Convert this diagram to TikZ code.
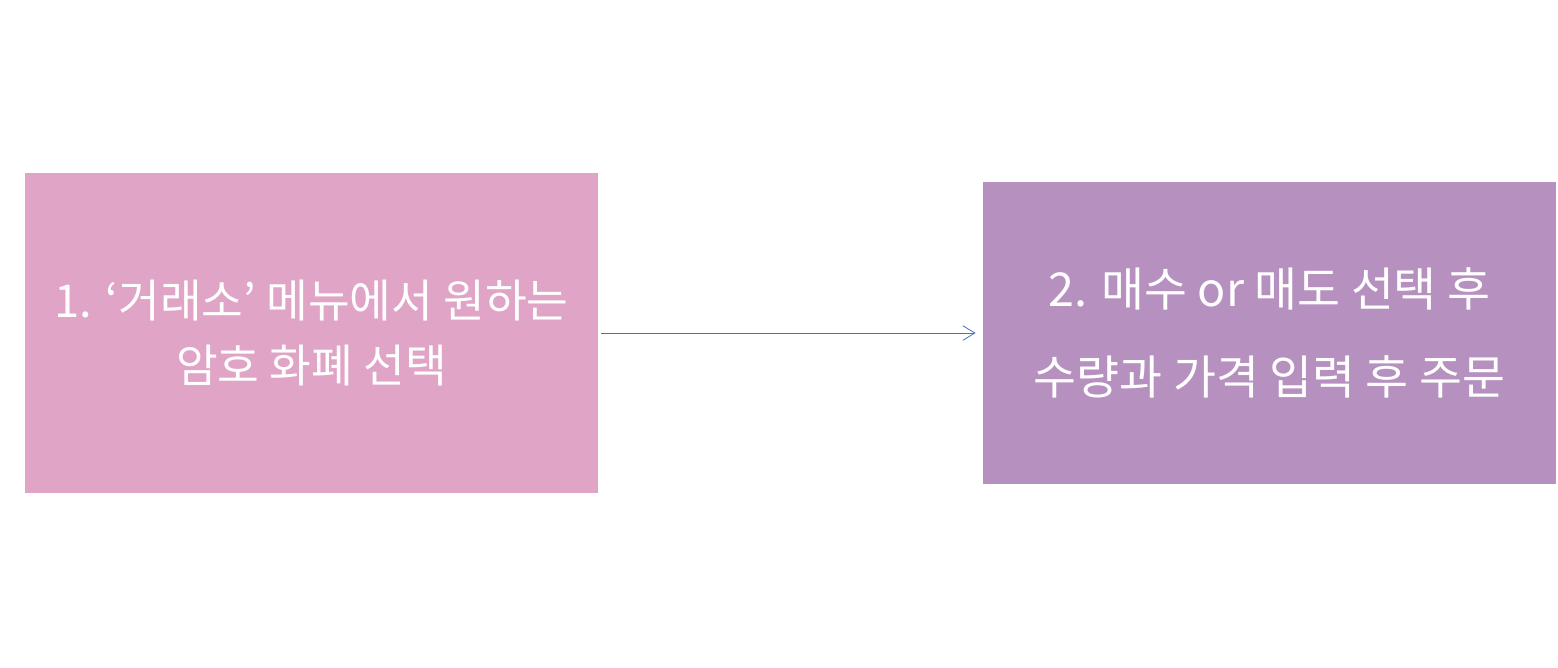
\documentclass[tikz,border=0pt]{standalone}
\usepackage{fontspec}
\newfontfamily\kr{Noto Sans CJK KR}
\usetikzlibrary{arrows.meta}
\definecolor{pinkbox}{HTML}{E0A4C6}
\definecolor{violetbox}{HTML}{B691C0}
\definecolor{arrowblue}{HTML}{4472C4}
\tikzset{
  stepbox/.style={fill=#1,draw=none,text=white,align=center,inner sep=0pt,
    font=\kr\fontsize{34}{49}\selectfont},
  flow/.style={draw=arrowblue,line width=0.6pt,-{Straight Barb[length=9pt,width=11pt,line width=0.6pt]}}
}
\begin{document}
\begin{tikzpicture}[x=0.75pt,y=-0.75pt]
\useasboundingbox (0,0) rectangle (1558,667);
\node[stepbox=pinkbox,minimum width=430pt,minimum height=240pt] (choose) at (311.5,333)
  {1. ‘거래소’ 메뉴에서 원하는\\암호 화폐 선택};
\node[stepbox=violetbox,minimum width=430pt,minimum height=226.5pt,
  font=\kr\fontsize{35}{66}\selectfont] (order) at (1269.5,333)
  {2. 매수 or 매도 선택 후\\수량과 가격 입력 후 주문};
\draw[flow,shorten <=2.25pt,shorten >=5.25pt] (choose.east) -- (order.west);
\end{tikzpicture}
\end{document}
